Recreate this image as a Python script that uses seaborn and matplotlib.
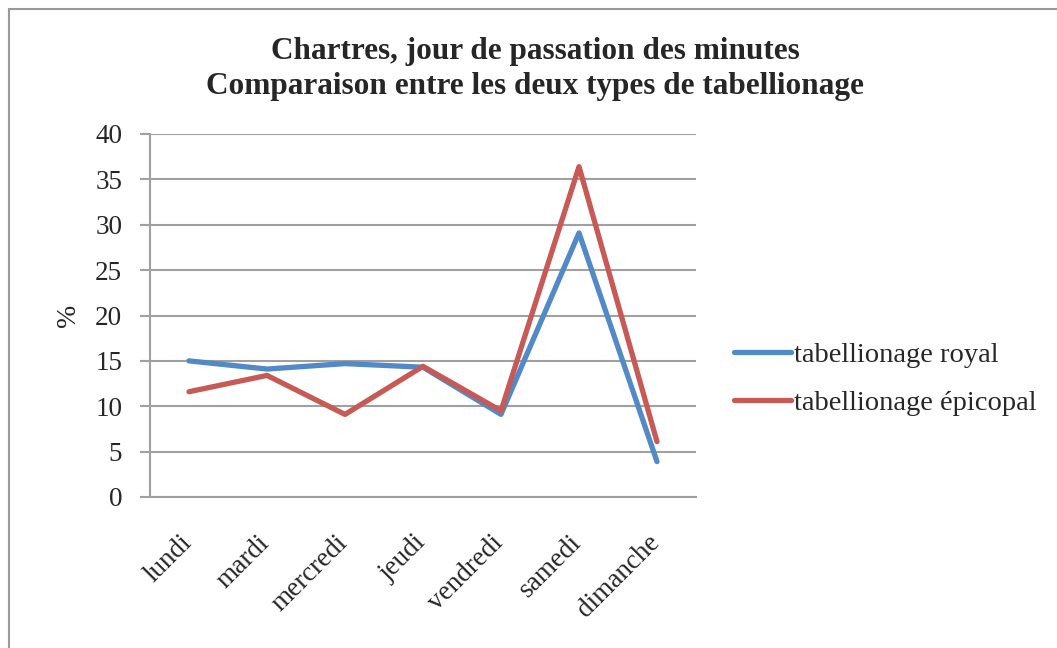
import matplotlib
matplotlib.use("Agg")
import matplotlib.pyplot as plt
from matplotlib.lines import Line2D
from matplotlib.transforms import ScaledTranslation
import seaborn as sns
import pandas as pd

jours = ["lundi", "mardi", "mercredi", "jeudi", "vendredi", "samedi", "dimanche"]
royal = [15.0, 14.1, 14.7, 14.3, 9.1, 29.1, 3.9]
episcopal = [11.6, 13.4, 9.1, 14.4, 9.5, 36.4, 6.1]
series_names = ["tabellionage royal", "tabellionage épicopal"]
colors = ["#5289C7", "#C75A56"]
yticks = [0, 5, 10, 15, 20, 25, 30, 35, 40]

df = pd.DataFrame({
    "jour": jours * 2,
    "pct": royal + episcopal,
    "type": [series_names[0]] * len(jours) + [series_names[1]] * len(jours),
})
df["pos"] = [jours.index(j) for j in df["jour"]]

sns.set_theme(style="white")
plt.rcParams["font.family"] = ["Liberation Serif", "DejaVu Serif"]

W, H = 1057, 648
fig = plt.figure(figsize=(W / 100, H / 100), dpi=100)
ax = fig.add_axes([150 / W, 1 - 497 / H, 546 / W, 363 / H])

sns.lineplot(data=df, x="pos", y="pct", hue="type", palette=colors,
             linewidth=3.8, ax=ax, legend=False, sort=False)

ax.set_xlim(-0.5, len(jours) - 0.5)
ax.set_ylim(0, 40)
ax.set_yticks(yticks)
ax.set_yticklabels([str(v) for v in yticks], fontsize=19.5)
ax.yaxis.grid(True, color="#A0A0A0", linewidth=1.5)
ax.set_axisbelow(True)

# category labels at band centres, tick marks at band edges
ax.set_xticks(range(len(jours)))
ax.set_xticks([i - 0.5 for i in range(len(jours) + 1)], minor=True)
ax.tick_params(axis="x", which="major", length=0, pad=24)
ax.tick_params(axis="x", which="minor", length=7, width=1.5, color="#A0A0A0", direction="out")
ax.tick_params(axis="y", length=7, width=1.5, color="#A0A0A0", direction="out", pad=13, left=True)
ax.set_xticklabels(jours, rotation=45, ha="right", va="top",
                   rotation_mode="anchor", fontsize=19.5)
shift = ScaledTranslation(-10 / 100, 0, fig.dpi_scale_trans)
for lab in ax.get_xticklabels():
    lab.set_transform(lab.get_transform() + shift)

for side in ["top", "right"]:
    ax.spines[side].set_visible(False)
for side in ["left", "bottom"]:
    ax.spines[side].set_color("#A0A0A0")
    ax.spines[side].set_linewidth(1.5)

ax.set_xlabel("")
ax.set_ylabel("%", fontsize=20, labelpad=10)

fig.text(535 / W, 1 - 69 / H, "Chartres, jour de passation des minutes\n"
         "Comparaison entre les deux types de tabellionage",
         ha="center", va="center", fontsize=22.5, fontweight="bold",
         linespacing=1.25)

handles = [Line2D([0], [0], color=c, linewidth=3.8) for c in colors]
fig.legend(handles, series_names, loc="center left",
           bbox_to_anchor=(734 / W, 1 - 379 / H), frameon=False,
           fontsize=20.5, handlelength=2.0, handletextpad=0.1, labelspacing=0.8,
           borderaxespad=0, borderpad=0)

# chart frame
fig.add_artist(Line2D([9 / W, 1], [1 - 9 / H, 1 - 9 / H], color="#9A9A9A",
                      linewidth=1.5, transform=fig.transFigure))
fig.add_artist(Line2D([9 / W, 9 / W], [0, 1 - 9 / H], color="#9A9A9A",
                      linewidth=1.5, transform=fig.transFigure))

fig.savefig("out.png", dpi=100)
